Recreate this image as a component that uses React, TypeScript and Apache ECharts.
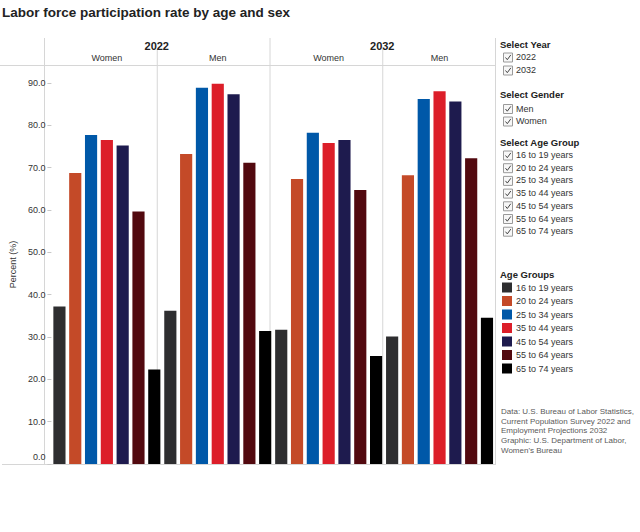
import React, { useEffect, useRef } from "react";
import * as echarts from "echarts";

// Panels: year x gender
const years = ["2022", "2032"];
const panelGenders = ["Women", "Men", "Women", "Men"];

const ageGroups = [
  "16 to 19 years",
  "20 to 24 years",
  "25 to 34 years",
  "35 to 44 years",
  "45 to 54 years",
  "55 to 64 years",
  "65 to 74 years",
];
const ageColors = ["#2e2e30", "#c44a28", "#0058a8", "#dc1e29", "#1e1b4e", "#52090f", "#000000"];

// Participation rate (%) per panel: 2022 Women, 2022 Men, 2032 Women, 2032 Men
const age16to19 = [37.2, 36.2, 31.7, 30.1];
const age20to24 = [68.7, 73.2, 67.3, 68.2];
const age25to34 = [77.7, 88.8, 78.2, 86.2];
const age35to44 = [76.5, 89.8, 75.8, 88.0];
const age45to54 = [75.2, 87.3, 76.5, 85.6];
const age55to64 = [59.6, 71.1, 64.7, 72.2];
const age65to74 = [22.3, 31.4, 25.5, 34.5];
const seriesValues = [age16to19, age20to24, age25to34, age35to44, age45to54, age55to64, age65to74];

const filterYears = ["2022", "2032"];
const filterGenders = ["Men", "Women"];

const sourceNote = [
  "Data: U.S. Bureau of Labor Statistics,",
  "Current Population Survey 2022 and",
  "Employment Projections 2032",
  "Graphic: U.S. Department of Labor,",
  "Women's Bureau",
];

const FONT = '"Liberation Sans", Arial, sans-serif';
const W = 640;
const H = 532;
const PLOT_L = 44;
const PLOT_R = 495;
const PLOT_T = 65;
const PLOT_B = 464;
const HEADER_T = 38;
const GENDER_DIV_T = 49;
const LINE = "#d6d6d6";

function vline(x: number, y1: number, y2: number) {
  return {
    type: "line",
    silent: true,
    shape: { x1: x + 0.5, y1, x2: x + 0.5, y2 },
    style: { stroke: LINE, lineWidth: 1 },
  };
}

function hline(y: number, x1: number, x2: number) {
  return {
    type: "line",
    silent: true,
    shape: { x1, y1: y + 0.5, x2, y2: y + 0.5 },
    style: { stroke: LINE, lineWidth: 1 },
  };
}

function checkbox(x: number, yc: number, label: string) {
  const y = yc - 4.5;
  return [
    {
      type: "rect",
      silent: true,
      shape: { x: x + 0.5, y: y + 0.5, width: 9, height: 9 },
      style: { fill: "#f7f7f7", stroke: "#9a9a9a", lineWidth: 1 },
    },
    {
      type: "polyline",
      silent: true,
      shape: { points: [[x + 2.5, y + 5], [x + 4.3, y + 7.2], [x + 7.8, y + 2.4]] },
      style: { stroke: "#444", lineWidth: 1, fill: "none" },
    },
    {
      type: "text",
      silent: true,
      x: x + 13,
      y: yc,
      style: { text: label, font: `9px ${FONT}`, fill: "#333", verticalAlign: "middle" },
    },
  ];
}

function heading(x: number, yc: number, text: string) {
  return {
    type: "text",
    silent: true,
    x,
    y: yc,
    style: { text, font: `bold 9.5px ${FONT}`, fill: "#222", verticalAlign: "middle" },
  };
}

export default function App() {
  const ref = useRef<HTMLDivElement>(null);

  useEffect(() => {
    if (!ref.current) return;
    const chart = echarts.init(ref.current, undefined, { renderer: "svg", width: W, height: H });

    const panelWidth = (PLOT_R - PLOT_L) / panelGenders.length;
    const graphics: any[] = [];

    // Frame and panel dividers
    graphics.push(vline(PLOT_L, HEADER_T, PLOT_B));
    graphics.push(vline(PLOT_L + panelWidth * 2, HEADER_T, PLOT_B));
    graphics.push(vline(PLOT_R, HEADER_T, PLOT_B));
    graphics.push(vline(PLOT_L + panelWidth, GENDER_DIV_T, PLOT_B));
    graphics.push(vline(PLOT_L + panelWidth * 3, GENDER_DIV_T, PLOT_B));
    graphics.push(hline(PLOT_T, 0, PLOT_R + 1));
    graphics.push(hline(PLOT_B, 2, PLOT_R + 1));

    // Year headers
    years.forEach((yr, i) => {
      graphics.push({
        type: "text",
        silent: true,
        x: PLOT_L + panelWidth * (2 * i + 1),
        y: 46,
        style: {
          text: yr,
          font: `bold 11px ${FONT}`,
          fill: "#222",
          align: "center",
          verticalAlign: "middle",
        },
      });
    });

    // Filter panels
    const fx = 500;
    graphics.push(heading(fx, 44, "Select Year"));
    filterYears.forEach((t, i) => graphics.push(...checkbox(503, 57 + i * 13, t)));
    graphics.push(heading(fx, 94.5, "Select Gender"));
    filterGenders.forEach((t, i) => graphics.push(...checkbox(503, 108.5 + i * 12.5, t)));
    graphics.push(heading(fx, 142, "Select Age Group"));
    ageGroups.forEach((t, i) => graphics.push(...checkbox(503, 155 + i * 12.7, t)));

    // Colour legend title
    graphics.push(heading(fx, 274.5, "Age Groups"));

    // Source note
    sourceNote.forEach((t, i) => {
      graphics.push({
        type: "text",
        silent: true,
        x: 501,
        y: 411.5 + i * 9.7,
        style: { text: t, font: `8px ${FONT}`, fill: "#5a5a5a", verticalAlign: "middle" },
      });
    });

    const option: any = {
      animation: false,
      backgroundColor: "#ffffff",
      textStyle: { fontFamily: FONT },
      title: {
        text: "Labor force participation rate by age and sex",
        left: 2,
        top: 5,
        padding: 0,
        textStyle: { fontSize: 13.5, fontWeight: "bold", color: "#222", fontFamily: FONT },
      },
      legend: {
        orient: "vertical",
        left: 502,
        top: 282.5,
        padding: 0,
        itemWidth: 10,
        itemHeight: 10,
        itemGap: 3.5,
        icon: "rect",
        selectedMode: false,
        textStyle: { fontSize: 9, color: "#333", fontFamily: FONT, padding: [0, 0, 0, -1] },
        data: ageGroups,
      },
      grid: {
        left: PLOT_L,
        right: W - PLOT_R,
        top: PLOT_T,
        bottom: H - PLOT_B,
        containLabel: false,
      },
      xAxis: [
        {
          type: "category",
          data: panelGenders,
          axisLine: { show: false },
          axisTick: { show: false },
          axisLabel: { show: false },
          splitLine: { show: false },
        },
        {
          type: "category",
          data: panelGenders,
          position: "top",
          axisLine: { show: false },
          axisTick: { show: false },
          axisLabel: { show: true, fontSize: 9, color: "#333", margin: 3, fontFamily: FONT },
          splitLine: { show: false },
        },
      ],
      yAxis: {
        type: "value",
        min: 0,
        max: 94.2,
        interval: 10,
        name: "Percent (%)",
        nameLocation: "middle",
        nameRotate: 90,
        nameGap: 30,
        nameTextStyle: { fontSize: 9, color: "#333", fontFamily: FONT },
        axisLine: { show: false },
        axisTick: { show: true, length: 4, lineStyle: { color: "#c8c8c8" } },
        splitLine: { show: false },
        axisLabel: {
          margin: 6,
          fontSize: 9,
          color: "#333",
          fontFamily: FONT,
          showMaxLabel: false,
          formatter: (v: number) => {
            if (Math.abs(v % 10) > 1e-6) return "";
            if (v === 0) return "{z|0.0}";
            return v.toFixed(1);
          },
          rich: { z: { fontSize: 9, color: "#333", fontFamily: FONT, padding: [0, 0, 14, 0] } },
        },
      },
      series: ageGroups.map((name, i) => ({
        name,
        type: "bar",
        xAxisIndex: 0,
        data: seriesValues[i],
        barGap: "30%",
        barCategoryGap: "3.5%",
        itemStyle: { color: ageColors[i] },
      })),
      graphic: graphics,
    };

    chart.setOption(option);
    return () => chart.dispose();
  }, []);

  return (
    <div
      ref={ref}
      style={{ position: "fixed", left: 0, top: 0, width: W, height: H, background: "#fff" }}
    />
  );
}
